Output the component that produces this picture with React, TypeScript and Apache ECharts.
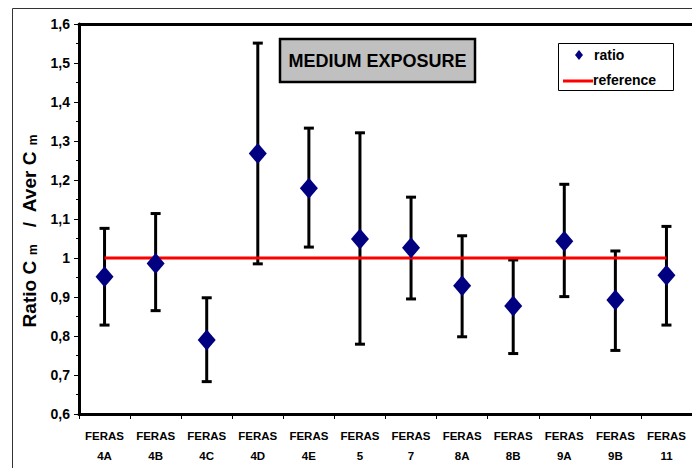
import React, { useEffect, useRef } from "react";
import * as echarts from "echarts";

const categories = [
  "FERAS\n4A", "FERAS\n4B", "FERAS\n4C", "FERAS\n4D", "FERAS\n4E", "FERAS\n5",
  "FERAS\n7", "FERAS\n8A", "FERAS\n8B", "FERAS\n9A", "FERAS\n9B", "FERAS\n11",
];
const ratio = [0.952, 0.986, 0.79, 1.268, 1.179, 1.049, 1.026, 0.929, 0.877, 1.043, 0.892, 0.956];
const upper = [1.076, 1.114, 0.898, 1.551, 1.333, 1.321, 1.156, 1.057, 0.995, 1.189, 1.018, 1.081];
const lower = [0.828, 0.865, 0.683, 0.985, 1.028, 0.779, 0.895, 0.798, 0.755, 0.901, 0.763, 0.828];
const reference = [1, 1, 1, 1, 1, 1, 1, 1, 1, 1, 1, 1];
const titleText = "MEDIUM EXPOSURE";
const legendLabels = ["ratio", "reference"];

const FONT = "'Liberation Sans', Arial, sans-serif";

export default function App() {
  const ref = useRef<HTMLDivElement>(null);
  useEffect(() => {
    if (!ref.current) return;
    const chart = echarts.init(ref.current, null, { renderer: "svg" });
    const errData = categories.map((_, i) => [i, upper[i], lower[i]]);
    chart.setOption({
      animation: false,
      backgroundColor: "#fff",
      textStyle: { fontFamily: FONT },
      grid: { left: 79, top: 24, right: -3, bottom: 54, show: false },
      xAxis: [
        {
          type: "category",
          data: categories,
          boundaryGap: true,
          axisLine: { show: true, lineStyle: { color: "#000", width: 3 } },
          axisTick: { show: true, length: 5, lineStyle: { color: "#000", width: 1 } },
          axisLabel: {
            color: "#000", fontWeight: "bold", fontSize: 11.5, fontFamily: FONT,
            lineHeight: 20, margin: 12, interval: 0,
          },
          splitLine: { show: false },
        },
        {
          type: "category",
          position: "top",
          data: categories,
          axisLine: { show: true, lineStyle: { color: "#000", width: 3 } },
          axisTick: { show: false },
          axisLabel: { show: false },
          splitLine: { show: false },
        },
      ],
      yAxis: {
        type: "value",
        min: 0.6,
        max: 1.6,
        interval: 0.1,
        name: "Ratio C{s|m}  /  Aver C{s|m}",
        nameLocation: "middle",
        nameGap: 40,
        nameTextStyle: {
          color: "#000", fontWeight: "bold", fontSize: 19, fontFamily: FONT,
          padding: [0, 18, 0, 0],
          rich: { s: { fontSize: 12, fontWeight: "bold", color: "#000", verticalAlign: "bottom", padding: [6, 6, 0, 6], fontFamily: FONT } },
        },
        axisLine: { show: true, lineStyle: { color: "#000", width: 3 } },
        axisTick: { show: true, length: 5, lineStyle: { color: "#000", width: 1 } },
        minorTick: { show: true, splitNumber: 2, length: 3, lineStyle: { color: "#000", width: 1 } },
        splitLine: { show: false },
        axisLabel: {
          color: "#000", fontWeight: "bold", fontSize: 14, fontFamily: FONT, margin: 9,
          formatter: (v: number) => String(Number(v.toFixed(1))).replace(".", ","),
        },
      },
      series: [
        {
          name: "error",
          type: "custom",
          z: 2,
          data: errData,
          encode: { x: 0, y: [1, 2] },
          renderItem: (params: any, api: any) => {
            const i = api.value(0);
            const hi = api.coord([i, api.value(1)]);
            const lo = api.coord([i, api.value(2)]);
            const cw = 5;
            const style = { stroke: "#000", lineWidth: 3, fill: "none" };
            return {
              type: "group",
              children: [
                { type: "line", shape: { x1: hi[0], y1: hi[1], x2: lo[0], y2: lo[1] }, style },
                { type: "line", shape: { x1: hi[0] - cw, y1: hi[1], x2: hi[0] + cw, y2: hi[1] }, style },
                { type: "line", shape: { x1: lo[0] - cw, y1: lo[1], x2: lo[0] + cw, y2: lo[1] }, style },
              ],
            };
          },
        },
        {
          name: "reference",
          type: "line",
          z: 3,
          data: reference,
          symbol: "none",
          lineStyle: { color: "#ff0000", width: 3 },
        },
        {
          name: "ratio",
          type: "scatter",
          z: 4,
          data: ratio,
          symbol: "diamond",
          symbolSize: [18, 21],
          itemStyle: { color: "#000080", opacity: 1 },
        },
      ],
      graphic: [
        {
          type: "line",
          shape: { x1: 12.5, y1: 8.5, x2: 692, y2: 8.5 },
          style: { stroke: "#333", lineWidth: 1 },
          silent: true,
        },
        {
          type: "line",
          shape: { x1: 12.5, y1: 8.5, x2: 12.5, y2: 468 },
          style: { stroke: "#333", lineWidth: 1 },
          silent: true,
        },
        {
          type: "rect",
          z: 10,
          shape: { x: 280, y: 39, width: 195, height: 43 },
          style: { fill: "#c0c0c0", stroke: "#000", lineWidth: 2.5 },
        },
        {
          type: "text",
          z: 11,
          x: 377.5,
          y: 61,
          style: {
            text: titleText, fill: "#000", font: `bold 18px ${FONT}`,
            align: "center", verticalAlign: "middle",
          },
        },
        {
          type: "rect",
          z: 10,
          shape: { x: 558.5, y: 43.5, width: 115, height: 47 },
          style: { fill: "#fff", stroke: "#000", lineWidth: 1 },
        },
        {
          type: "polygon",
          z: 11,
          shape: { points: [[579, 50], [583, 55], [579, 60], [575, 55]] },
          style: { fill: "#000080" },
        },
        {
          type: "text",
          z: 11,
          x: 594,
          y: 55,
          style: { text: legendLabels[0], fill: "#000", font: `bold 14px ${FONT}`, verticalAlign: "middle" },
        },
        {
          type: "line",
          z: 11,
          shape: { x1: 563, y1: 81, x2: 593, y2: 81 },
          style: { stroke: "#ff0000", lineWidth: 3 },
        },
        {
          type: "text",
          z: 11,
          x: 593,
          y: 80,
          style: { text: legendLabels[1], fill: "#000", font: `bold 14px ${FONT}`, verticalAlign: "middle" },
        },
      ],
    });
    return () => chart.dispose();
  }, []);
  return (
    <div
      ref={ref}
      style={{ position: "fixed", left: 0, top: 0, width: 692, height: 468, background: "#fff" }}
    />
  );
}
